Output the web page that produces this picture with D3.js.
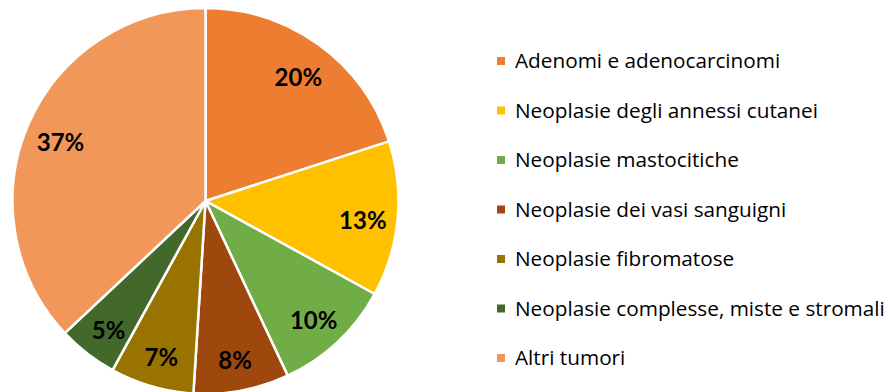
<!DOCTYPE html>
<html>
<head>
<meta charset="utf-8">
<script src="https://cdn.jsdelivr.net/npm/d3@7"></script>
<style>
  html, body { margin: 0; padding: 0; background: #fff; }
  svg { display: block; }
</style>
</head>
<body>
<svg id="chart" width="891" height="392"></svg>
<script>
// Tumour categories and their share (%)
const categories = [
  "Adenomi e adenocarcinomi",
  "Neoplasie degli annessi cutanei",
  "Neoplasie mastocitiche",
  "Neoplasie dei vasi sanguigni",
  "Neoplasie fibromatose",
  "Neoplasie complesse, miste e stromali",
  "Altri tumori"
];
const values = [20, 13, 10, 8, 7, 5, 37];
const colors = ["#ED7D31", "#FFC000", "#70AD47", "#9E480E", "#997300", "#43682B", "#F1975A"];

const svg = d3.select("#chart");
const cx = 205.5, cy = 201, R = 193;

const pie = d3.pie().sort(null).value(d => d.value);
const arcs = pie(categories.map((c, i) => ({ name: c, value: values[i], color: colors[i] })));

const arc = d3.arc().innerRadius(0).outerRadius(R);
const labelArc = d3.arc().innerRadius(158).outerRadius(158);

const g = svg.append("g").attr("transform", `translate(${cx},${cy})`);

g.selectAll("path")
  .data(arcs)
  .join("path")
  .attr("d", arc)
  .attr("fill", d => d.data.color)
  .attr("stroke", "#fff")
  .attr("stroke-width", 2.5)
  .attr("stroke-linejoin", "round");

g.selectAll("text.val")
  .data(arcs)
  .join("text")
  .attr("class", "val")
  .attr("transform", d => `translate(${labelArc.centroid(d)})`)
  .attr("text-anchor", "middle")
  .attr("dy", "0.55em")
  .style("font-family", "Lato, 'Open Sans', sans-serif")
  .style("font-weight", "bold")
  .style("font-size", "24px")
  .attr("fill", "#000")
  .text(d => d.data.value + "%");

// Legend
const legendY = d3.scalePoint().domain(categories).range([61, 358]);
const legend = svg.append("g");
const items = legend.selectAll("g")
  .data(arcs)
  .join("g")
  .attr("transform", d => `translate(497,${legendY(d.data.name)})`);

items.append("rect")
  .attr("x", 0).attr("y", -4)
  .attr("width", 8).attr("height", 8)
  .attr("fill", d => d.data.color);

const labels = items.append("text")
  .attr("x", 18)
  .attr("dy", "0.36em")
  .style("font-family", "'Open Sans', Lato, sans-serif")
  .style("font-size", "18px")
  .attr("fill", "#000")
  .text(d => d.data.name);

// Size the legend font so the longest entry spans to the right edge
const widest = d3.max(labels.nodes(), n => n.getComputedTextLength());
const fs = 18 * 370 / widest;
labels.style("font-size", fs + "px");
</script>
</body>
</html>
